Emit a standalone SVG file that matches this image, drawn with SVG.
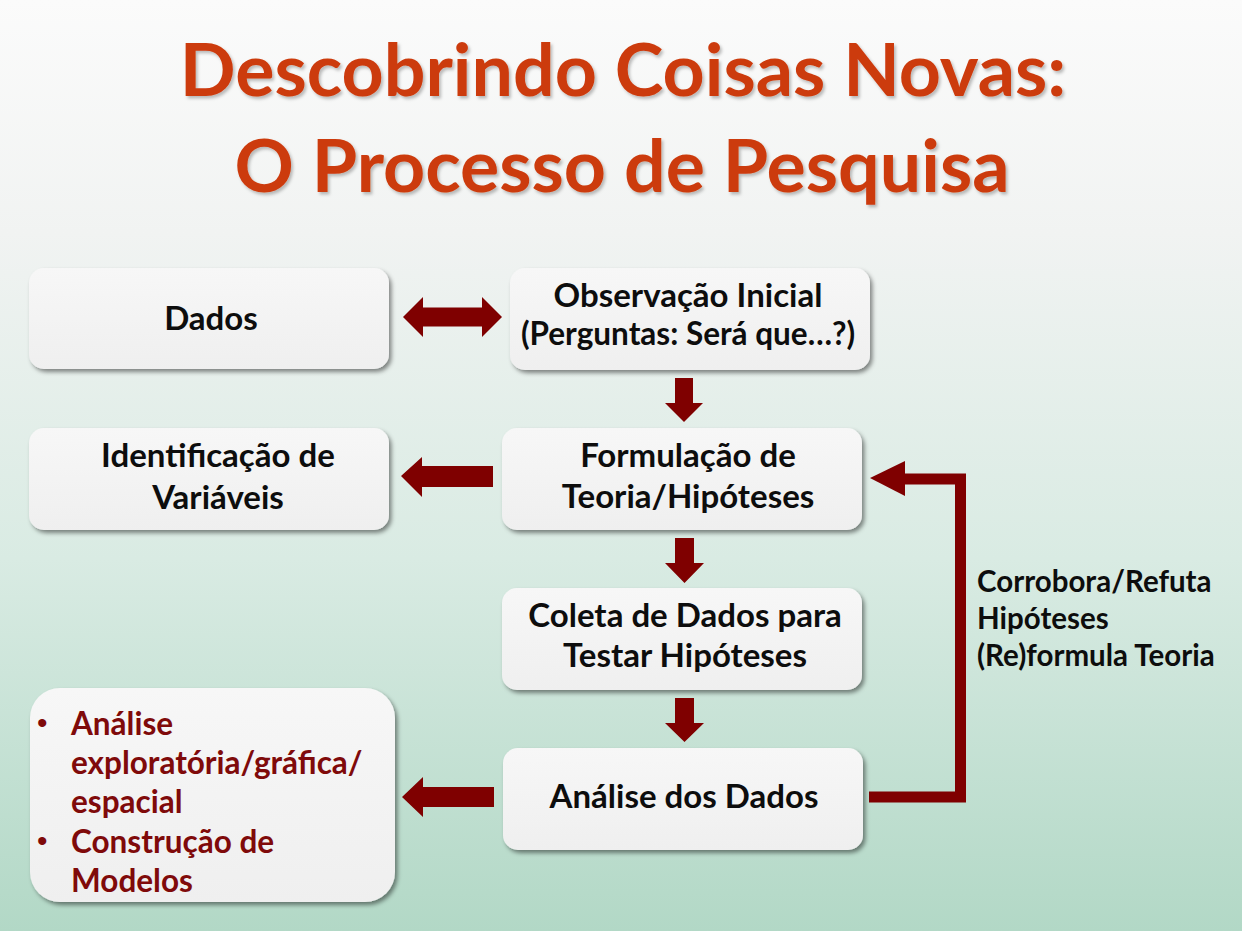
<svg xmlns="http://www.w3.org/2000/svg" width="1242" height="931" viewBox="0 0 1242 931">
<defs>
<linearGradient id="bg" x1="0" y1="0" x2="0" y2="1">
<stop offset="0" stop-color="#fbfbfb"/>
<stop offset="0.25" stop-color="#f1f3f2"/>
<stop offset="0.6" stop-color="#d9ebe3"/>
<stop offset="1" stop-color="#b2d8c6"/>
</linearGradient>
<linearGradient id="boxfill" x1="0" y1="0" x2="0" y2="1">
<stop offset="0" stop-color="#f7f7f7"/>
<stop offset="1" stop-color="#efefef"/>
</linearGradient>
<filter id="shadow" x="-10%" y="-10%" width="125%" height="130%">
<feDropShadow dx="2.5" dy="3" stdDeviation="2" flood-color="#000" flood-opacity="0.45"/>
</filter>
<filter id="tshadow" x="-5%" y="-10%" width="110%" height="130%">
<feDropShadow dx="2" dy="2.5" stdDeviation="1.5" flood-color="#000" flood-opacity="0.25"/>
</filter>
<style>
.box{fill:url(#boxfill);filter:url(#shadow);}
.t{font-family:Lato,"Liberation Sans",sans-serif;font-weight:700;font-size:33px;fill:#0d0d0d;text-anchor:middle;}
.t.sm{font-size:31.5px;}
.title{font-family:Lato,"Liberation Sans",sans-serif;font-weight:700;font-size:73.5px;fill:#cc3a0b;text-anchor:middle;filter:url(#tshadow);}
.red{font-family:Lato,"Liberation Sans",sans-serif;font-weight:700;font-size:31.5px;fill:#7f0a0a;}
.bul{font-family:"Liberation Sans",sans-serif;font-size:30px;fill:#7f0a0a;}
.lbl{font-family:Lato,"Liberation Sans",sans-serif;font-weight:700;font-size:29.5px;fill:#0d0d0d;}
.arr{fill:#7f0000;}
.fb{fill:none;stroke:#7f0000;stroke-width:11;stroke-linejoin:miter;}
</style>
</defs>
<rect x="0" y="0" width="1242" height="931" fill="url(#bg)"/>
<g id="title">
<text class="title" x="623" y="96">Descobrindo Coisas Novas:</text>
<text class="title" x="622" y="192">O Processo de Pesquisa</text>
</g>
<g id="connectors">
<polygon class="arr" points="403,317 423,297 423,307.5 482,307.5 482,297 502,317 482,337 482,326.5 423,326.5 423,337"/>
<polygon class="arr" points="675,378 693,378 693,403 703,403 684,422 665,403 675,403"/>
<polygon class="arr" points="675,538 694,538 694,563 704,563 684.5,583 665,563 675,563"/>
<polygon class="arr" points="675,698 694,698 694,723 704,723 684.5,742 665,723 675,723"/>
<polygon class="arr" points="401,476 422,457 422,466 493,466 493,487 422,487 422,497"/>
<polygon class="arr" points="402,797 423,777 423,787 494,787 494,807 423,807 423,817"/>
<polyline class="fb" points="869,797 960.5,797 960.5,479 904,479"/>
<polygon class="arr" points="870,478 905,461 905,496"/>
<g id="feedback-label">
<text class="lbl" x="977" y="592">Corrobora/Refuta</text>
<text class="lbl" x="977" y="629">Hipóteses</text>
<text class="lbl" x="977" y="666">(Re)formula Teoria</text>
</g>
</g>
<g id="dados">
<rect class="box" x="29" y="268" width="360" height="101" rx="15"/>
<text class="t" x="211" y="330">Dados</text>
</g>
<g id="observacao">
<rect class="box" x="510" y="268" width="360" height="102" rx="15"/>
<text class="t" x="688" y="307">Observação Inicial</text>
<text class="t sm" x="688" y="345">(Perguntas: Será que…?)</text>
</g>
<g id="identificacao">
<rect class="box" x="29" y="428" width="360" height="102" rx="15"/>
<text class="t" x="218" y="467">Identificação de</text>
<text class="t" x="218" y="509">Variáveis</text>
</g>
<g id="formulacao">
<rect class="box" x="502" y="428" width="360" height="102" rx="15"/>
<text class="t" x="688" y="467">Formulação de</text>
<text class="t" x="688" y="508">Teoria/Hipóteses</text>
</g>
<g id="coleta">
<rect class="box" x="502" y="588" width="360" height="102" rx="15"/>
<text class="t" x="685" y="627">Coleta de Dados para</text>
<text class="t" x="685" y="667">Testar Hipóteses</text>
</g>
<g id="analise">
<rect class="box" x="503" y="748" width="360" height="102" rx="15"/>
<text class="t" x="684" y="808">Análise dos Dados</text>
</g>
<g id="resultados">
<rect class="box" x="30" y="688" width="365" height="214" rx="30"/>
<text class="bul" x="37" y="733">•</text>
<text class="red" x="71" y="735">Análise</text>
<text class="red" x="71" y="774">exploratória/gráfica/</text>
<text class="red" x="71" y="813">espacial</text>
<text class="bul" x="37" y="851">•</text>
<text class="red" x="71" y="853">Construção de</text>
<text class="red" x="71" y="892">Modelos</text>
</g>
</svg>
